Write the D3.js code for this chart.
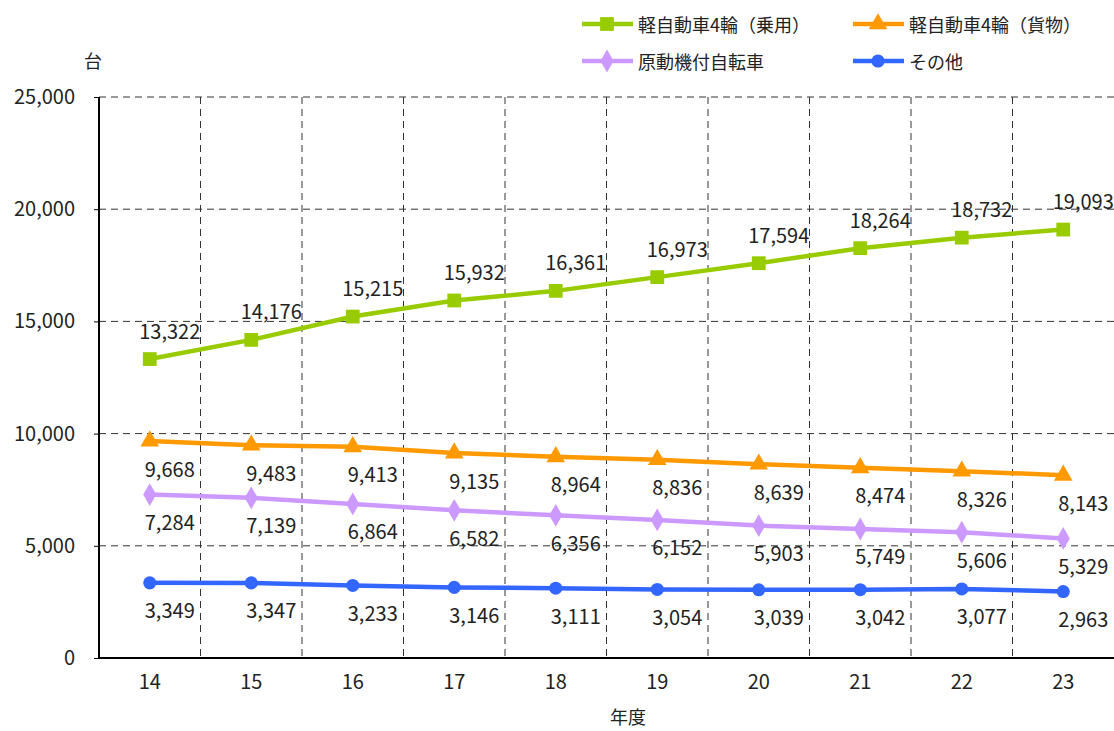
<!DOCTYPE html>
<html><head><meta charset="utf-8">
<script src="https://cdn.jsdelivr.net/npm/d3@7"></script>
<style>body{margin:0;background:#fff}svg{display:block}text{font-family:"Noto Sans CJK JP","Noto Sans",sans-serif;fill:#222}</style>
</head><body>
<script>
const categories = ["14","15","16","17","18","19","20","21","22","23"];
const seriesNames = ["軽自動車4輪（乗用）","軽自動車4輪（貨物）","原動機付自転車","その他"];
const passenger = [13322,14176,15215,15932,16361,16973,17594,18264,18732,19093];
const cargo = [9668,9483,9413,9135,8964,8836,8639,8474,8326,8143];
const moped = [7284,7139,6864,6582,6356,6152,5903,5749,5606,5329];
const other = [3349,3347,3233,3146,3111,3054,3039,3042,3077,2963];
const yTicks = [0,5000,10000,15000,20000,25000];
const colors = ["#99CC00","#FF9900","#CC99FF","#3366FF"];
const markers = ["square","triangle","diamond","circle"];
const labelPos = ["above","below","below","below"];
const values = [passenger,cargo,moped,other];

const W=1114,H=731, L=99,R=1114,T=97,B=658;
const svg=d3.select("body").append("svg").attr("width",W).attr("height",H);
const x=d3.scaleBand().domain(categories).range([L,R]).padding(0);
const y=d3.scaleLinear().domain([0,25000]).range([B,T]);
const fmt=d3.format(",");

// grid
const g=svg.append("g");
g.selectAll(".hg").data(yTicks.filter(d=>d>0)).join("line")
 .attr("x1",L).attr("x2",R).attr("y1",d=>y(d)).attr("y2",d=>y(d))
 .attr("stroke","#333").attr("stroke-width",1).attr("stroke-dasharray","7,5");
g.selectAll(".vg").data(categories.slice(1)).join("line")
 .attr("x1",d=>x(d)).attr("x2",d=>x(d)).attr("y1",T).attr("y2",B)
 .attr("stroke","#333").attr("stroke-width",1).attr("stroke-dasharray","7,5");

// axes
const ya=svg.append("g").attr("transform",`translate(${L},0)`)
 .call(d3.axisLeft(y).tickValues(yTicks).tickSize(5).tickFormat(fmt).tickPadding(19));
ya.select(".domain").attr("stroke","#000").attr("stroke-width",2).attr("d",`M0,${T}V${B}`);
ya.selectAll(".tick line").attr("stroke","#000");
ya.selectAll("text").style("font-size","20px").attr("fill","#222");
const xa=svg.append("g").attr("transform",`translate(0,${B})`)
 .call(d3.axisBottom(x).tickSize(0).tickPadding(17));
xa.select(".domain").attr("stroke","#000").attr("stroke-width",2).attr("d",`M${L},0H${R}`);
xa.selectAll("text").style("font-size","20px").attr("fill","#222");

svg.append("text").attr("x",93).attr("y",60).attr("text-anchor","middle").attr("dominant-baseline","central").style("font-size","18px").text("台");
svg.append("text").attr("x",628).attr("y",716).attr("text-anchor","middle").attr("dominant-baseline","central").style("font-size","18px").text("年度");

function sym(type){
 const s={square:d3.symbolSquare,triangle:d3.symbolTriangle,diamond:d3.symbolDiamond,circle:d3.symbolCircle}[type];
 const size={square:190,triangle:150,diamond:150,circle:135}[type];
 return d3.symbol().type(s).size(size)();
}
const line=d3.line().x((d,i)=>x(categories[i])+x.bandwidth()/2).y(d=>y(d));
values.forEach((vals,si)=>{
 const sg=svg.append("g");
 sg.append("path").datum(vals).attr("d",line).attr("fill","none").attr("stroke",colors[si]).attr("stroke-width",4.5);
 sg.selectAll("path.m").data(vals).join("path").attr("class","m")
  .attr("transform",(d,i)=>`translate(${x(categories[i])+x.bandwidth()/2},${y(d)})`)
  .attr("d",sym(markers[si])).attr("fill",colors[si]);
 sg.selectAll("text").data(vals).join("text")
  .attr("x",(d,i)=>x(categories[i])+x.bandwidth()/2+20)
  .attr("y",d=>y(d)+(labelPos[si]==="above"?-29:27))
  .attr("text-anchor","middle").attr("dominant-baseline","central")
  .style("font-size","20px").text(d=>fmt(d));
});

// legend
const lg=svg.append("g");
const lpos=[[582,24],[853,24],[582,61],[853,61]];
seriesNames.forEach((n,i)=>{
 const [lx,ly]=lpos[i];
 lg.append("line").attr("x1",lx).attr("x2",lx+51).attr("y1",ly).attr("y2",ly).attr("stroke",colors[i]).attr("stroke-width",4.5);
 lg.append("path").attr("transform",`translate(${lx+25},${ly})`).attr("d",sym(markers[i])).attr("fill",colors[i]);
 lg.append("text").attr("x",lx+56).attr("y",ly).attr("dominant-baseline","central").style("font-size","18px").text(n);
});
</script>
</body></html>
